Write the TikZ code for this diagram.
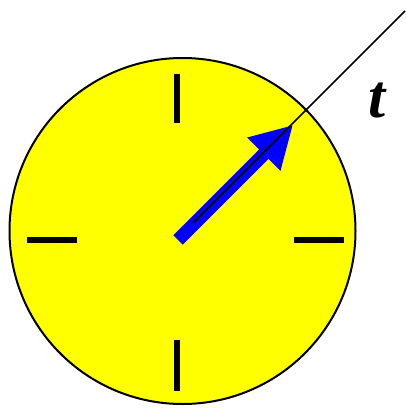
\documentclass[tikz,border=0pt]{standalone}
\usepackage{fontspec}
\setmainfont{Liberation Serif}
\usetikzlibrary{arrows.meta}
\definecolor{dial}{HTML}{FFFF00}
\definecolor{hand}{HTML}{0000FF}
\tikzset{
  tick/.style={line width=4.5pt,draw=black},
  handarrow/.style={line width=10pt,draw=hand,-{Triangle[length=31pt,width=33pt]}},
}
\begin{document}
\begin{tikzpicture}[x=0.75pt,y=-0.75pt]
\useasboundingbox (0,0) rectangle (405,410);
% dial face
\draw[fill=dial,line width=1.5pt] (182.5,231) circle (173);
% hour ticks
\draw[tick] (177,74) -- (177,123);
\draw[tick] (177,340) -- (177,391);
\draw[tick] (27,240) -- (77,240);
\draw[tick] (294,240) -- (344,240);
% hand and time line
\coordinate (o) at (178,240);
\coordinate (tip) at (293,125);
\coordinate (far) at (405,11);
\draw[handarrow] (o) -- (tip);
\draw[line width=1.2pt] (193,223) -- (far);
\node[font=\fontsize{46}{46}\selectfont\bfseries\itshape] (t) at (377,101) {t};
\end{tikzpicture}
\end{document}
